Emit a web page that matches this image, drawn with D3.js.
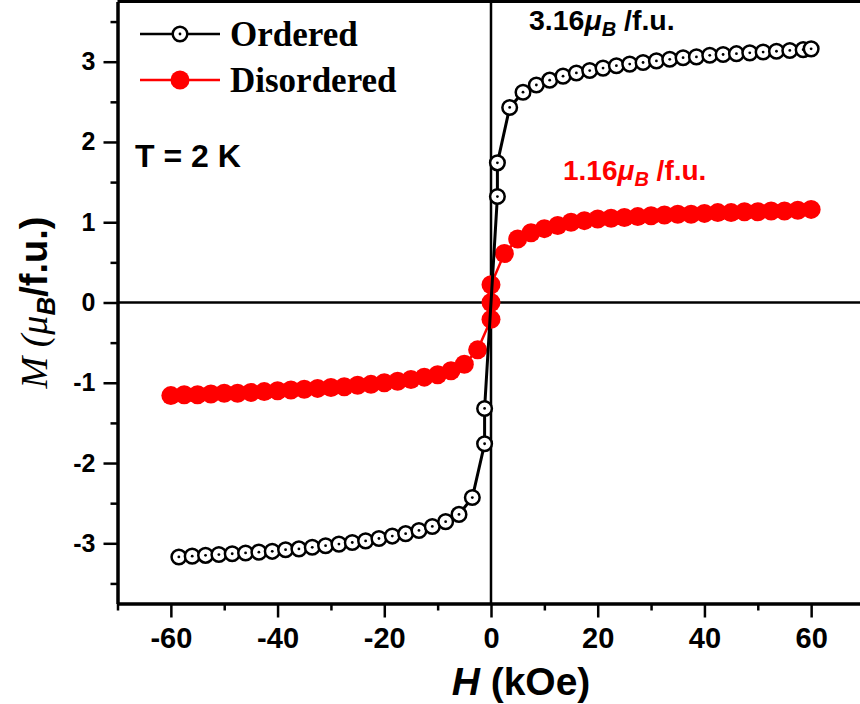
<!DOCTYPE html>
<html>
<head>
<meta charset="utf-8">
<script src="https://cdn.jsdelivr.net/npm/d3@7"></script>
<style>
body { margin: 0; background: #fff; }
svg { display: block; }
</style>
</head>
<body>
<div id="chart"></div>
<script>
// field (kOe) and moment (muB/f.u.)
const orderedH = [-58.5, -56, -53.5, -51, -48.5, -46, -43.5, -41, -38.5, -36, -33.5, -31, -28.5, -26, -23.5, -21, -18.5, -16, -13.5, -11, -8.5, -6, -3.5,
    -1.2, -1.2, 1.2, 1.2,
    3.5, 6, 8.5, 11, 13.5, 16, 18.5, 21, 23.5, 26, 28.5, 31, 33.5, 36, 38.5, 41, 43.5, 46, 48.5, 51, 53.5, 56, 58.5, 60]
const orderedM = [-3.17, -3.16, -3.15, -3.14, -3.13, -3.12, -3.11, -3.10, -3.08, -3.07, -3.05, -3.03, -3.01, -2.99, -2.97, -2.94, -2.91, -2.88, -2.84, -2.79, -2.73, -2.64, -2.43,
    -1.76, -1.32, 1.32, 1.74,
    2.43, 2.62, 2.71, 2.77, 2.82, 2.86, 2.89, 2.92, 2.95, 2.97, 2.99, 3.01, 3.03, 3.05, 3.06, 3.08, 3.09, 3.10, 3.11, 3.12, 3.13, 3.14, 3.15, 3.16]

const disorderedH = [-60, -57.5, -55, -52.5, -50, -47.5, -45, -42.5, -40, -37.5, -35, -32.5, -30, -27.5, -25, -22.5, -20, -17.5, -15, -12.5, -10, -7.5, -5, -2.5,
    0, 0, 0,
    2.5, 5, 7.5, 10, 12.5, 15, 17.5, 20, 22.5, 25, 27.5, 30, 32.5, 35, 37.5, 40, 42.5, 45, 47.5, 50, 52.5, 55, 57.5, 60]
const disorderedM = [-1.16, -1.15, -1.15, -1.14, -1.13, -1.13, -1.12, -1.11, -1.10, -1.09, -1.08, -1.07, -1.06, -1.05, -1.03, -1.02, -1.00, -0.98, -0.96, -0.93, -0.90, -0.85, -0.77, -0.59,
    -0.21, 0, 0.22,
    0.61, 0.79, 0.87, 0.92, 0.96, 1.00, 1.02, 1.04, 1.05, 1.06, 1.07, 1.08, 1.09, 1.10, 1.10, 1.11, 1.12, 1.12, 1.13, 1.13, 1.14, 1.14, 1.15, 1.16]

const xTicks = [-60, -40, -20, 0, 20, 40, 60]
const xMinorTicks = [-70, -50, -30, -10, 10, 30, 50, 70]
const yTicks = [-3, -2, -1, 0, 1, 2, 3]
const yMinorTicks = [-3.5, -2.5, -1.5, -0.5, 0.5, 1.5, 2.5, 3.5]

const seriesNames = ['Ordered', 'Disordered']
const satOrdered = '3.16'
const satDisordered = '1.16'

d3.select(window).on('load', () => {
    let svg = d3.select('#chart').append('svg')
        .attr('width', 860)
        .attr('height', 704)

    let x = d3.scaleLinear().domain([-70, 70]).range([117.5, 864.5])
    let y = d3.scaleLinear().domain([-3.75, 3.75]).range([603.5, 1.5])

    const sans = 'Liberation Sans, Arial, sans-serif'
    const serif = 'Liberation Serif, Times New Roman, serif'

    // zero lines
    svg.append('line')
        .attr('x1', x(-70)).attr('x2', x(70))
        .attr('y1', y(0)).attr('y2', y(0))
        .style('stroke', 'black').style('stroke-width', 2.5)
    svg.append('line')
        .attr('x1', x(0)).attr('x2', x(0))
        .attr('y1', y(3.75)).attr('y2', y(-3.75))
        .style('stroke', 'black').style('stroke-width', 2.5)

    // top frame
    svg.append('line')
        .attr('x1', x(-70)).attr('x2', x(70))
        .attr('y1', y(3.75)).attr('y2', y(3.75))
        .style('stroke', 'black').style('stroke-width', 3)

    // x axis
    let xAxisG = svg.append('g').attr('transform', 'translate(0,' + y(-3.75) + ')')
    xAxisG.append('g')
        .call(d3.axisBottom(x).tickValues(xMinorTicks).tickSize(7).tickSizeOuter(0).tickFormat(''))
    let xMajor = xAxisG.append('g')
        .call(d3.axisBottom(x).tickValues(xTicks).tickSize(14).tickSizeOuter(0).tickPadding(10)
            .tickFormat(d => d < 0 ? '-' + Math.abs(d) : d))
    xAxisG.selectAll('.domain').style('stroke-width', 3)
    xAxisG.selectAll('.tick line').style('stroke-width', 2.5)
    xMajor.selectAll('.tick text')
        .style('font-family', sans)
        .style('font-weight', 'bold')
        .style('font-size', '29px')

    // y axis
    let yAxisG = svg.append('g').attr('transform', 'translate(' + x(-70) + ',0)')
    yAxisG.append('g')
        .call(d3.axisLeft(y).tickValues(yMinorTicks).tickSize(7).tickSizeOuter(0).tickFormat(''))
    let yMajor = yAxisG.append('g')
        .call(d3.axisLeft(y).tickValues(yTicks).tickSize(14).tickSizeOuter(0).tickPadding(8)
            .tickFormat(d => d < 0 ? '-' + Math.abs(d) : d))
    yAxisG.selectAll('.domain').style('stroke-width', 3)
    yAxisG.selectAll('.tick line').style('stroke-width', 2.5)
    yMajor.selectAll('.tick text')
        .style('font-family', sans)
        .style('font-weight', 'bold')
        .style('font-size', '25px')

    // axis titles
    let xTitle = svg.append('text')
        .attr('transform', 'translate(521, 695)')
        .style('text-anchor', 'middle')
        .style('font-family', sans)
        .style('font-weight', 'bold')
        .style('font-size', '39px')
    xTitle.append('tspan').style('font-style', 'italic').text('H')
    xTitle.append('tspan').text(' (kOe)')

    let yTitle = svg.append('text')
        .attr('transform', 'translate(47,' + y(0) + ') rotate(-90)')
        .style('text-anchor', 'middle')
        .style('font-size', '38px')
    yTitle.append('tspan').style('font-family', serif).style('font-style', 'italic').text('M (')
    yTitle.append('tspan').style('font-family', serif).style('font-style', 'italic').text('μ')
    yTitle.append('tspan').style('font-family', sans).style('font-style', 'italic').style('font-weight', 'bold')
        .style('font-size', '26px').attr('dy', 8).text('B')
    yTitle.append('tspan').style('font-family', sans).style('font-weight', 'bold')
        .attr('dy', -8).text('/f.u.)')

    let line = d3.line().x(d => x(d[0])).y(d => y(d[1]))
    let disordered = disorderedH.map((h, i) => [h, disorderedM[i]])
    let ordered = orderedH.map((h, i) => [h, orderedM[i]])

    // disordered series
    svg.append('path')
        .datum(disordered)
        .attr('d', line)
        .attr('fill', 'none')
        .style('stroke', 'red')
        .style('stroke-width', 2.5)
    svg.append('g').selectAll('circle')
        .data(disordered)
        .join('circle')
        .attr('cx', d => x(d[0]))
        .attr('cy', d => y(d[1]))
        .attr('r', 9.5)
        .attr('fill', 'red')

    // ordered series
    svg.append('path')
        .datum(ordered)
        .attr('d', line)
        .attr('fill', 'none')
        .style('stroke', 'black')
        .style('stroke-width', 3)
    let oPts = svg.append('g').selectAll('g')
        .data(ordered)
        .join('g')
        .attr('transform', d => 'translate(' + x(d[0]) + ',' + y(d[1]) + ')')
    oPts.append('circle')
        .attr('r', 7.3)
        .attr('fill', 'white')
        .style('stroke', 'black')
        .style('stroke-width', 2.5)
    oPts.append('circle')
        .attr('r', 1.4)
        .attr('fill', 'black')

    // legend
    let legend = svg.append('g')
    let legendRows = [
        { name: seriesNames[0], color: 'black', yy: 34, open: true },
        { name: seriesNames[1], color: 'red', yy: 80, open: false }
    ]
    legendRows.forEach(r => {
        legend.append('line')
            .attr('x1', 140).attr('x2', 220)
            .attr('y1', r.yy).attr('y2', r.yy)
            .style('stroke', r.color).style('stroke-width', 2.5)
        if (r.open) {
            legend.append('circle').attr('cx', 180).attr('cy', r.yy).attr('r', 7.3)
                .attr('fill', 'white').style('stroke', 'black').style('stroke-width', 2.5)
            legend.append('circle').attr('cx', 180).attr('cy', r.yy).attr('r', 1.4).attr('fill', 'black')
        } else {
            legend.append('circle').attr('cx', 180).attr('cy', r.yy).attr('r', 9.5).attr('fill', 'red')
        }
        legend.append('text')
            .attr('x', 230).attr('y', r.yy + 12)
            .text(r.name)
            .style('font-family', serif)
            .style('font-weight', 'bold')
            .style('font-size', '35px')
    })

    // annotations
    function satLabel (xx, yy, val, color, size) {
        let t = svg.append('text')
            .attr('x', xx).attr('y', yy)
            .attr('fill', color)
            .style('font-family', sans)
            .style('font-weight', 'bold')
            .style('font-size', size + 'px')
        t.append('tspan').text(val)
        t.append('tspan').style('font-style', 'italic').text('μ')
        t.append('tspan').style('font-style', 'italic').style('font-size', Math.round(size * 0.7) + 'px').attr('dy', 6).text('B')
        t.append('tspan').attr('dy', -6).text(' /f.u.')
    }
    satLabel(529, 30, satOrdered, 'black', 28.5)
    satLabel(563, 180, satDisordered, 'red', 28)

    svg.append('text')
        .attr('x', 135).attr('y', 167)
        .text('T = 2 K')
        .style('font-family', sans)
        .style('font-weight', 'bold')
        .style('font-size', '32px')
})
</script>
</body>
</html>
